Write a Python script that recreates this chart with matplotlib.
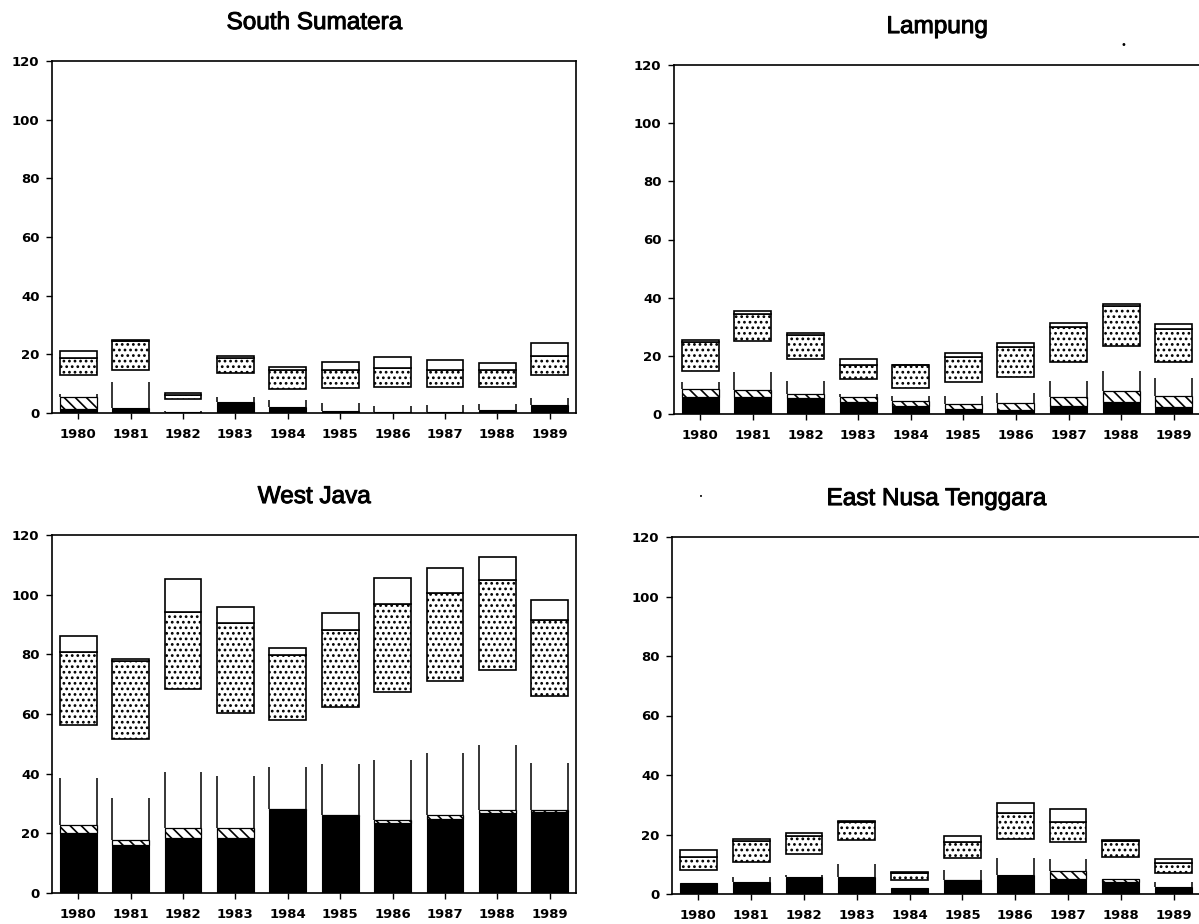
import matplotlib
matplotlib.use("Agg")
import matplotlib.pyplot as plt
import matplotlib.patheffects as pe
import numpy as np

years = ["1980", "1981", "1982", "1983", "1984", "1985", "1986", "1987", "1988", "1989"]
yticks = [0, 20, 40, 60, 80, 100, 120]

# Segment heights, bottom to top: solid, hatched, open, blank gap, dotted, white
ss_solid  = [1.4, 1.7, 0.3, 3.6, 1.9, 0.8, 0.5, 0.5, 1.1, 2.7]
ss_hatch  = [4.0, 0.0, 0.0, 0.0, 0.0, 0.0, 0.0, 0.0, 0.0, 0.0]
ss_open   = [1.1, 8.8, 0.5, 1.8, 2.5, 2.5, 2.0, 2.3, 2.0, 2.3]
ss_gap    = [6.3, 4.0, 4.0, 8.1, 3.8, 5.2, 6.3, 6.0, 5.7, 7.8]
ss_dotted = [6.0, 10.2, 1.5, 5.3, 6.3, 6.2, 6.5, 5.7, 5.7, 6.8]
ss_white  = [2.5, 0.3, 0.5, 0.8, 1.3, 2.8, 3.7, 3.4, 2.5, 4.3]

lp_solid  = [6.0, 6.0, 5.4, 4.0, 2.9, 1.7, 1.5, 2.9, 4.0, 2.3]
lp_hatch  = [2.6, 2.3, 1.5, 1.7, 1.7, 1.7, 2.3, 2.8, 4.0, 4.0]
lp_open   = [2.5, 6.1, 4.6, 1.2, 1.5, 2.7, 3.4, 5.8, 6.9, 6.0]
lp_gap    = [3.8, 10.6, 7.4, 5.2, 2.7, 4.8, 5.4, 6.5, 8.4, 5.5]
lp_dotted = [9.8, 9.5, 8.1, 4.8, 7.9, 8.6, 10.4, 11.9, 13.7, 11.5]
lp_white  = [0.8, 0.8, 0.9, 2.0, 0.2, 1.4, 1.5, 1.5, 0.9, 1.5]

wj_solid  = [20.1, 16.2, 18.4, 18.4, 27.9, 25.7, 23.4, 24.9, 26.8, 27.3]
wj_hatch  = [2.6, 1.7, 3.4, 3.4, 0.3, 0.3, 1.2, 1.1, 0.9, 0.4]
wj_open   = [15.8, 13.9, 18.9, 17.3, 14.0, 17.3, 20.1, 20.9, 22.0, 15.8]
wj_gap    = [17.9, 19.8, 27.8, 21.2, 15.8, 19.2, 22.6, 24.2, 25.1, 22.4]
wj_dotted = [24.3, 26.0, 25.8, 30.1, 21.8, 25.7, 29.6, 29.6, 30.1, 25.6]
wj_white  = [5.6, 0.8, 10.9, 5.6, 2.2, 5.6, 8.6, 8.4, 7.8, 6.7]

en_solid  = [3.6, 3.9, 5.6, 5.8, 2.0, 4.3, 6.5, 5.0, 3.9, 2.5]
en_hatch  = [0.0, 0.0, 0.0, 0.0, 0.0, 0.4, 0.0, 2.6, 1.1, 0.0]
en_open   = [0.0, 1.9, 0.8, 4.3, 0.0, 3.2, 5.6, 4.0, 0.0, 1.4]
en_gap    = [4.3, 4.9, 7.1, 8.2, 2.8, 4.2, 6.4, 5.8, 7.3, 3.2]
en_dotted = [4.4, 7.2, 6.1, 5.8, 2.2, 5.3, 8.8, 6.9, 5.6, 3.4]
en_white  = [2.5, 0.6, 0.8, 0.3, 0.3, 2.2, 3.3, 4.3, 0.3, 1.3]

W, H = 1199, 924
plt.rcParams['hatch.linewidth'] = 1.2
fig = plt.figure(figsize=(W / 100, H / 100), dpi=100)

TICKFONT = dict(family="DejaVu Sans", weight="bold", size=9.5)
TITLEFONT = dict(family="Liberation Sans", size=17.5)
BW = 0.7


def frac(px_left, px_right, px_top, px_bottom):
    return [px_left / W, 1 - px_bottom / H, (px_right - px_left) / W, (px_bottom - px_top) / H]


def draw(rect, title, solid, hatch, opn, gap, dotted, white):
    ax = fig.add_axes(rect)
    x = np.arange(len(years))
    solid, hatch, opn, gap, dotted, white = map(np.asarray, (solid, hatch, opn, gap, dotted, white))
    bottom = np.zeros(len(years))

    def layer(vals, **kw):
        m = vals > 0
        if m.any():
            ax.bar(x[m], vals[m], BW, bottom=bottom[m], **kw)

    layer(solid, color="black", edgecolor="black", linewidth=0.8)
    bottom = bottom + solid
    layer(hatch, color="white", edgecolor="black", hatch="\\\\\\", linewidth=0.9)
    bottom = bottom + hatch
    m = opn > 0
    ax.vlines(x[m] - BW / 2, bottom[m], bottom[m] + opn[m], color="black", linewidth=1.1)
    ax.vlines(x[m] + BW / 2, bottom[m], bottom[m] + opn[m], color="black", linewidth=1.1)
    bottom = bottom + opn + gap
    layer(dotted, color="white", edgecolor="black", hatch="...", linewidth=1.2)
    bottom = bottom + dotted
    layer(white, color="white", edgecolor="black", linewidth=1.2)

    ax.set_xlim(-0.5, len(years) - 0.5)
    ax.set_ylim(0, 120)
    ax.set_yticks(yticks)
    ax.set_yticklabels([str(v) for v in yticks], fontdict=TICKFONT)
    ax.set_xticks(x)
    ax.set_xticklabels(years, fontdict=TICKFONT)
    ax.tick_params(axis="both", direction="out", length=4, width=1.0, color="black")
    ax.tick_params(axis="y", pad=5)
    ax.tick_params(axis="x", pad=7)
    for s in ax.spines.values():
        s.set_linewidth(1.2)
        s.set_color("black")
    t = ax.set_title(title, fontdict=TITLEFONT, pad=23)
    t.set_path_effects([pe.withStroke(linewidth=0.7, foreground="black")])
    return ax


draw(frac(52, 576, 61, 413), "South Sumatera", ss_solid, ss_hatch, ss_open, ss_gap, ss_dotted, ss_white)
draw(frac(674, 1200, 65, 414), "Lampung", lp_solid, lp_hatch, lp_open, lp_gap, lp_dotted, lp_white)
draw(frac(52, 576, 535, 893), "West Java", wj_solid, wj_hatch, wj_open, wj_gap, wj_dotted, wj_white)
draw(frac(672, 1200, 537, 894), "East Nusa Tenggara", en_solid, en_hatch, en_open, en_gap, en_dotted, en_white)

# stray scan specks
fig.text(1123 / W, 1 - 45 / H, "\u2022", ha="center", va="center", fontsize=7)
fig.text(701 / W, 1 - 497 / H, "\u2022", ha="center", va="center", fontsize=5)

fig.savefig("out.png", dpi=100, facecolor="white")
